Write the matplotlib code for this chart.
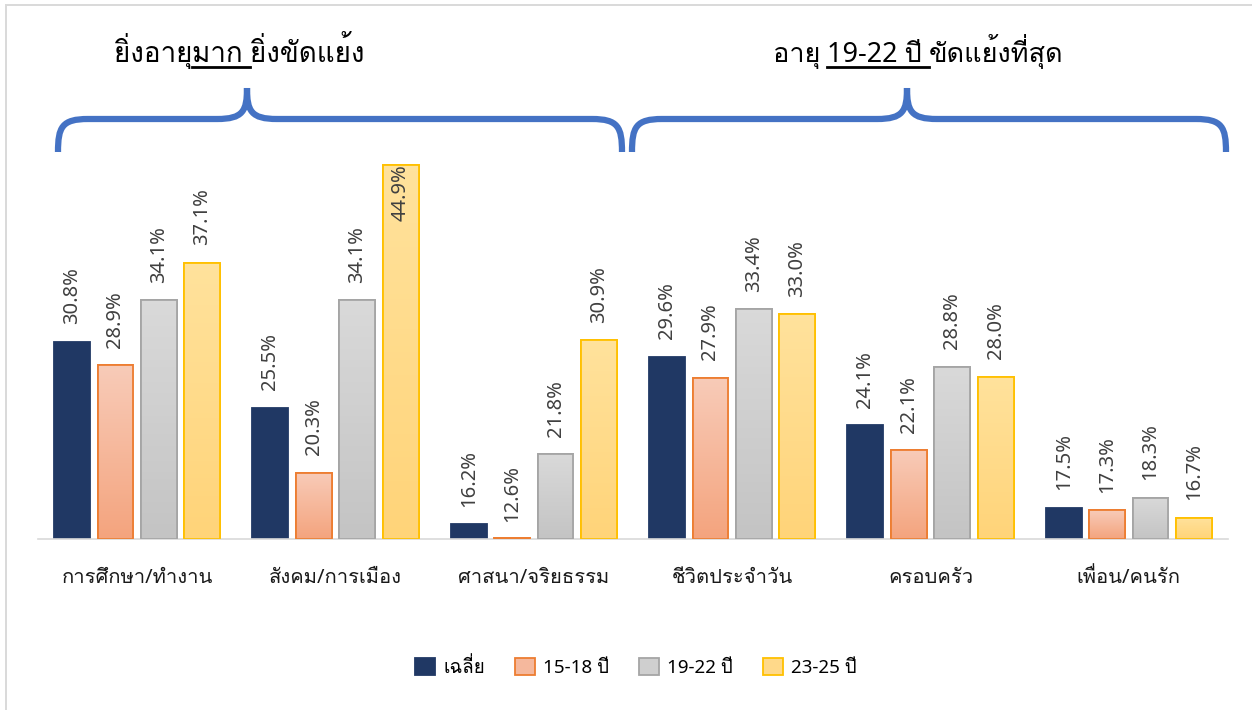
import matplotlib
matplotlib.use("Agg")
import matplotlib.pyplot as plt
import numpy as np
from matplotlib.path import Path
from matplotlib.patches import PathPatch, Rectangle
from matplotlib.lines import Line2D
from matplotlib.colors import LinearSegmentedColormap

categories = ["การศึกษา/ทำงาน", "สังคม/การเมือง", "ศาสนา/จริยธรรม",
              "ชีวิตประจำวัน", "ครอบครัว", "เพื่อน/คนรัก"]
series_names = ["เฉลี่ย", "15-18 ปี", "19-22 ปี", "23-25 ปี"]
avg = [30.8, 25.5, 16.2, 29.6, 24.1, 17.5]
age15 = [28.9, 20.3, 12.6, 27.9, 22.1, 17.3]
age19 = [34.1, 34.1, 21.8, 33.4, 28.8, 18.3]
age23 = [37.1, 44.9, 30.9, 33.0, 28.0, 16.7]
title_left = ["ยิ่งอายุ", "มาก ", "ยิ่งขัดแย้ง"]
title_right = ["อายุ ", "19-22 ปี ", "ขัดแย้งที่สุด"]

# latin from Noto Sans, thai glyphs from Loma (stacks tone marks ok without shaping)
plt.rcParams['font.family'] = ['Noto Sans', 'Loma', 'DejaVu Sans']

W, H = 1252, 710
fig = plt.figure(figsize=(W / 100, H / 100), dpi=100)
ax = fig.add_axes([38 / W, 1 - 539 / H, (1228 - 38) / W, (539 - 164) / H])

base = 15
ax.set_xlim(-0.5, len(categories) - 0.5)
ax.set_ylim(base, 45)
for s in ["top", "right", "left"]:
    ax.spines[s].set_visible(False)
ax.spines["bottom"].set_color("#d9d9d9")
ax.spines["bottom"].set_linewidth(1.2)
ax.set_yticks([])
ax.tick_params(axis="x", length=0, pad=21, labelsize=14.5, colors="#1a1a1a")

x = np.arange(len(categories))
step = 0.219
width = 0.18
faces = ["#203864", "#f5b89d", "#cfcfcf", "#ffd98a"]
grads = [None, ("#f8cbb8", "#f4a47e"), ("#d9d9d9", "#c4c4c4"), ("#ffe29c", "#ffd479")]
edges = ["#203864", "#ed7d31", "#a5a5a5", "#ffc000"]
data = [avg, age15, age19, age23]

handles = []
for i, vals in enumerate(data):
    xs = x + (i - 1.5) * step
    heights = [max(v - base, 0.08) for v in vals]
    bars = ax.bar(xs, heights, width, bottom=base, color=faces[i],
                  edgecolor=edges[i], linewidth=1.3, label=series_names[i], zorder=2)
    handles.append(bars)
    if grads[i] is not None:
        cmap = LinearSegmentedColormap.from_list("g%d" % i, [grads[i][1], grads[i][0]])
        for b in bars:
            bx, by = b.get_x(), b.get_y()
            bw, bh = b.get_width(), b.get_height()
            im = ax.imshow(np.linspace(0, 1, 64).reshape(-1, 1), cmap=cmap,
                           extent=[bx, bx + bw, by, by + bh], origin="lower",
                           aspect="auto", zorder=2.5)
            im.set_clip_path(b)
            # edge again over the gradient
            ax.add_patch(Rectangle((bx, by), bw, bh, fill=False, edgecolor=edges[i],
                                   linewidth=1.3, zorder=3))
    for xi, v in zip(xs, vals):
        top = max(v, base)
        if top > 43:
            ax.text(xi, 45, "%.1f%%" % v, rotation=90, ha="center", va="top",
                    fontsize=14.5, color="#404040", zorder=4)
        else:
            ax.annotate("%.1f%%" % v, (xi, top), xytext=(0, 12.5), textcoords="offset points",
                        rotation=90, ha="center", va="bottom", fontsize=14.5,
                        color="#404040", annotation_clip=False, zorder=4)
ax.set_xticks(x)
ax.set_xticklabels(categories)
ax.set_aspect("auto")

fig.legend(handles=handles, loc="center", bbox_to_anchor=(636 / W, 1 - 667 / H), ncol=4,
           frameon=False, fontsize=13.5, handlelength=1.05, handleheight=1.05,
           handletextpad=0.45, columnspacing=1.6)

# chart border (only top and left show)
fig.add_artist(Rectangle((6 / W, -0.01), 1.2, 1 - 5 / H + 0.01, transform=fig.transFigure,
                         fill=False, edgecolor="#d9d9d9", linewidth=1.4))


def px(xp, yp):
    return (xp / W, 1 - yp / H)


def brace(x0, x1, xm, ytop, ybar, ybot):
    r = 30
    verts = [px(x0, ybot), px(x0, ybar + 8), px(x0 + 4, ybar), px(x0 + r, ybar),
             px(xm - r, ybar), px(xm - 4, ybar), px(xm, ybar - 8), px(xm, ytop),
             px(xm, ybar - 8), px(xm + 4, ybar), px(xm + r, ybar),
             px(x1 - r, ybar), px(x1 - 4, ybar), px(x1, ybar + 8), px(x1, ybot)]
    codes = [Path.MOVETO, Path.CURVE4, Path.CURVE4, Path.CURVE4,
             Path.LINETO, Path.CURVE4, Path.CURVE4, Path.CURVE4,
             Path.CURVE4, Path.CURVE4, Path.CURVE4,
             Path.LINETO, Path.CURVE4, Path.CURVE4, Path.CURVE4]
    fig.add_artist(PathPatch(Path(verts, codes), transform=fig.transFigure, fill=False,
                             edgecolor="#4472c4", linewidth=4.5, capstyle="butt"))


brace(58, 622, 247, 88, 119, 152)
brace(632, 1226, 907, 88, 119, 152)

fig.canvas.draw()
rend = fig.canvas.get_renderer()


def place_title(parts, cx, yb, uidx, fs=20):
    ts = [fig.text(0, 1 - yb / H, p, fontsize=fs, va="baseline", ha="left", color="#000000")
          for p in parts]
    ws = [t.get_window_extent(rend).width for t in ts]
    xcur = cx - sum(ws) / 2
    for j, (t, w) in enumerate(zip(ts, ws)):
        t.set_x(xcur / W)
        if j == uidx:
            fig.add_artist(Line2D([xcur / W, (xcur + w) / W], [1 - (yb + 5) / H] * 2,
                                  transform=fig.transFigure, color="black", linewidth=2))
        xcur += w


place_title(title_left, 239, 62, 1)
place_title(title_right, 918, 62, 1, fs=19.5)

fig.savefig("out.png", dpi=100)
